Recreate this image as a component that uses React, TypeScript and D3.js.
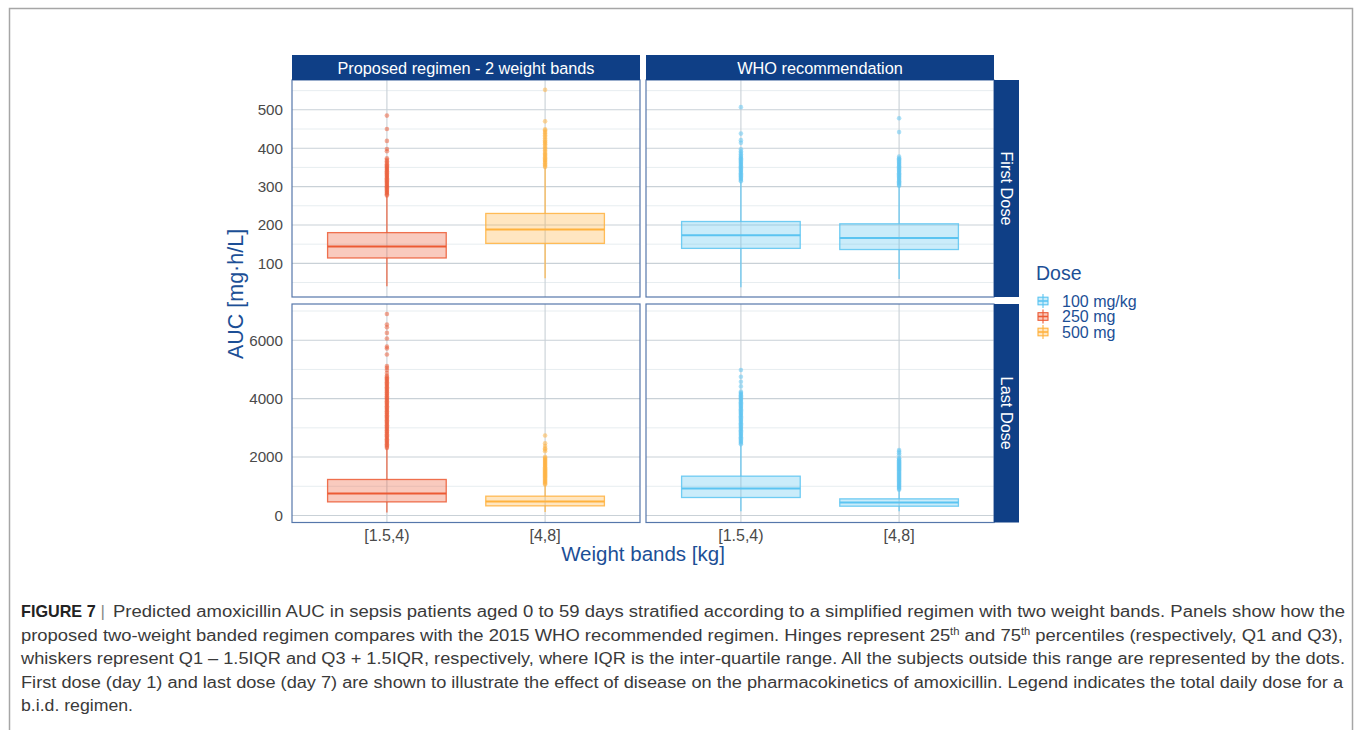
import React from "react";
import * as d3 from "d3";

// Facet labels and categories
const regimens = ["Proposed regimen - 2 weight bands", "WHO recommendation"];
const doseRows = ["First Dose", "Last Dose"];
const weightBands = ["[1.5,4)", "[4,8]"];
const doseLabels = ["100 mg/kg", "250 mg", "500 mg"];
const doseColors = ["#5bc4f1", "#ec5a34", "#ffb23e"];
const proposedDoses = ["250 mg", "500 mg"];
const whoDoses = ["100 mg/kg", "100 mg/kg"];

// Axis ticks
const firstMajorTicks = [100, 200, 300, 400, 500];
const firstMinorTicks = [50, 150, 250, 350, 450, 550];
const lastMajorTicks = [0, 2000, 4000, 6000];
const lastMinorTicks = [1000, 3000, 5000, 7000];

// Box statistics per weight band: [lower whisker, Q1, median, Q3, upper whisker]
const firstProposedStats = [
  [40, 114, 144, 180, 276],
  [61, 152, 188, 230, 349],
];
const firstWhoStats = [
  [38, 139, 173, 209, 312],
  [59, 136, 166, 203, 300],
];
const lastProposedStats = [
  [100, 466, 753, 1233, 2294],
  [123, 330, 479, 661, 1038],
];
const lastWhoStats = [
  [147, 616, 925, 1346, 2408],
  [147, 318, 444, 569, 866],
];

// Subjects beyond the whiskers
const firstProposedOutliers = [
  [277, 280, 283, 286, 289, 292, 295, 298, 301, 304, 307, 310, 313, 316, 319, 322, 325, 328, 331, 334, 337, 340, 343, 346, 349, 352, 355, 358, 362, 366, 370, 374, 392, 398, 419, 450, 485],
  [351, 354, 357, 361, 364, 367, 370, 373, 376, 380, 383, 386, 390, 394, 398, 402, 406, 410, 414, 417, 421, 425, 430, 434, 438, 442, 446, 449, 470, 552],
];
const firstWhoOutliers = [
  [314, 317, 320, 323, 326, 329, 332, 335, 338, 341, 344, 347, 350, 353, 356, 359, 362, 365, 368, 371, 374, 377, 380, 384, 388, 392, 397, 414, 421, 438, 507],
  [302, 305, 308, 311, 314, 317, 320, 323, 326, 329, 332, 335, 338, 341, 344, 347, 350, 353, 356, 359, 362, 365, 368, 371, 374, 378, 442, 478],
];
const lastProposedOutliers = [
  [2310, 2350, 2395, 2440, 2480, 2525, 2570, 2610, 2655, 2700, 2740, 2785, 2830, 2870, 2915, 2960, 3000, 3045, 3090, 3130, 3175, 3220, 3260, 3305, 3350, 3390, 3435, 3480, 3520, 3565, 3610, 3650, 3695, 3740, 3780, 3825, 3870, 3910, 3955, 4000, 4040, 4085, 4130, 4170, 4215, 4260, 4300, 4345, 4390, 4430, 4475, 4520, 4560, 4605, 4650, 4690, 4735, 4780, 4880, 4980, 5060, 5120, 5510, 5720, 5780, 6060, 6250, 6440, 6540, 6900],
  [1060, 1095, 1130, 1165, 1200, 1235, 1270, 1305, 1340, 1375, 1410, 1445, 1480, 1515, 1550, 1585, 1620, 1655, 1690, 1725, 1760, 1795, 1830, 1865, 1900, 1935, 1970, 2005, 2200, 2260, 2300, 2380, 2470, 2740],
];
const lastWhoOutliers = [
  [2440, 2480, 2520, 2560, 2600, 2640, 2680, 2720, 2760, 2800, 2840, 2880, 2920, 2960, 3000, 3040, 3080, 3120, 3160, 3200, 3240, 3280, 3320, 3360, 3400, 3440, 3480, 3520, 3560, 3600, 3640, 3680, 3720, 3760, 3800, 3840, 3880, 3920, 3960, 4000, 4040, 4080, 4120, 4160, 4200, 4240, 4420, 4580, 4750, 4980],
  [880, 915, 950, 985, 1020, 1055, 1090, 1125, 1160, 1195, 1230, 1265, 1300, 1335, 1370, 1405, 1440, 1475, 1510, 1545, 1580, 1615, 1650, 1685, 1720, 1755, 1790, 1825, 1860, 1895, 1930, 1960, 2060, 2130, 2190, 2240],
];

// Caption
const captionLines = [
  "Predicted amoxicillin AUC in sepsis patients aged 0 to 59 days stratified according to a simplified regimen with two weight bands. Panels show how the",
  "proposed two-weight banded regimen compares with the 2015 WHO recommended regimen. Hinges represent 25",
  "whiskers represent Q1 \u2013 1.5IQR and Q3 + 1.5IQR, respectively, where IQR is the inter-quartile range. All the subjects outside this range are represented by the dots.",
  "First dose (day 1) and last dose (day 7) are shown to illustrate the effect of disease on the pharmacokinetics of amoxicillin. Legend indicates the total daily dose for a",
  "b.i.d. regimen.",
];

const FONT = "'Liberation Sans', Arial, sans-serif";
const NARROW = "'Liberation Sans Narrow', 'Liberation Sans', Arial, sans-serif";
const NAVY = "#0f3f86";
const TITLE_BLUE = "#1c4f96";
const GRID = "#c9d1d7";
const GRID_MINOR = "#e7edf0";
const BORDER = "#5677ab";

const colOf = (dose: string) => doseColors[doseLabels.indexOf(dose)];

function expandedDomain(stats: number[][][], outliers: number[][][]): [number, number] {
  const vals: number[] = [];
  stats.forEach((p) => p.forEach((s) => vals.push(...s)));
  outliers.forEach((p) => p.forEach((o) => vals.push(...o)));
  const [lo, hi] = d3.extent(vals) as [number, number];
  const pad = (hi - lo) * 0.05;
  return [lo - pad, hi + pad];
}

export default function App() {
  const cols = [
    { x0: 292, x1: 640 },
    { x0: 646, x1: 994 },
  ];
  const rows = [
    { y0: 80, y1: 297 },
    { y0: 304, y1: 522.5 },
  ];

  const firstDomain = expandedDomain([firstProposedStats, firstWhoStats], [firstProposedOutliers, firstWhoOutliers]);
  const lastDomain = expandedDomain([lastProposedStats, lastWhoStats], [lastProposedOutliers, lastWhoOutliers]);

  const yScales = [
    d3.scaleLinear().domain(firstDomain).range([rows[0].y1, rows[0].y0]),
    d3.scaleLinear().domain(lastDomain).range([rows[1].y1, rows[1].y0]),
  ];
  const majorTicks = [firstMajorTicks, lastMajorTicks];
  const minorTicks = [firstMinorTicks, lastMinorTicks];

  // discrete axis: two unit-spaced positions with 0.6 expansion on each side
  const xScales = cols.map((c) => d3.scaleLinear().domain([0.4, 2.6]).range([c.x0, c.x1]));
  const xPos = (ci: number, bi: number) => xScales[ci](bi + 1);
  const boxHalf = (ci: number) => (xScales[ci](1.375) - xScales[ci](1));

  const panelStats = [
    [firstProposedStats, firstWhoStats],
    [lastProposedStats, lastWhoStats],
  ];
  const panelOutliers = [
    [firstProposedOutliers, firstWhoOutliers],
    [lastProposedOutliers, lastWhoOutliers],
  ];
  const panelDoses = [proposedDoses, whoDoses];

  const fmt = d3.format("d");

  const panels: React.ReactNode[] = [];
  rows.forEach((r, ri) => {
    cols.forEach((c, ci) => {
      const y = yScales[ri];
      const [dLo, dHi] = y.domain();
      const key = `p${ri}${ci}`;
      panels.push(
        <g key={key}>
          <rect x={c.x0} y={r.y0} width={c.x1 - c.x0} height={r.y1 - r.y0} fill="#fff" />
          {minorTicks[ri]
            .filter((t) => t > dLo && t < dHi)
            .map((t) => (
              <line key={`mi${t}`} x1={c.x0} x2={c.x1} y1={y(t)} y2={y(t)} stroke={GRID_MINOR} strokeWidth={1} />
            ))}
          {majorTicks[ri].map((t) => (
            <line key={`ma${t}`} x1={c.x0} x2={c.x1} y1={y(t)} y2={y(t)} stroke={GRID} strokeWidth={1.1} />
          ))}
          {weightBands.map((b, bi) => (
            <line key={`v${b}`} x1={xPos(ci, bi)} x2={xPos(ci, bi)} y1={r.y0} y2={r.y1} stroke={GRID} strokeWidth={1.1} />
          ))}
          {weightBands.map((b, bi) => {
            const [lw, q1, med, q3, uw] = panelStats[ri][ci][bi];
            const color = colOf(panelDoses[ci][bi]);
            const cx = xPos(ci, bi);
            const hw = boxHalf(ci);
            return (
              <g key={`b${b}`}>
                <line x1={cx} x2={cx} y1={y(uw)} y2={y(q3)} stroke={color} strokeWidth={1.1} />
                <line x1={cx} x2={cx} y1={y(q1)} y2={y(lw)} stroke={color} strokeWidth={1.1} />
                <rect
                  x={cx - hw}
                  y={y(q3)}
                  width={hw * 2}
                  height={y(q1) - y(q3)}
                  fill={color}
                  fillOpacity={0.32}
                  stroke={color}
                  strokeOpacity={0.85}
                  strokeWidth={1.3}
                />
                <line x1={cx - hw} x2={cx + hw} y1={y(med)} y2={y(med)} stroke={color} strokeWidth={2} />
                {panelOutliers[ri][ci][bi].map((v, i) => (
                  <circle key={i} cx={cx} cy={y(v)} r={2.3} fill={color} fillOpacity={0.5} />
                ))}
              </g>
            );
          })}
          <rect x={c.x0} y={r.y0} width={c.x1 - c.x0} height={r.y1 - r.y0} fill="none" stroke={BORDER} strokeWidth={1.2} />
        </g>
      );
    });
  });

  return (
    <svg
      width={1355}
      height={730}
      style={{ position: "absolute", left: 0, top: 0, background: "#fff" }}
      fontFamily={FONT}
    >
      <rect x={0} y={0} width={1355} height={730} fill="#fff" />
      {/* figure frame */}
      <path d="M9.5,730 V8.5 H1352.5 V730" fill="none" stroke="#a6a6a6" strokeWidth={1.5} />

      {panels}

      {/* column strips */}
      {cols.map((c, ci) => (
        <g key={`cs${ci}`}>
          <rect x={c.x0} y={55} width={c.x1 - c.x0} height={25} fill={NAVY} />
          <text x={(c.x0 + c.x1) / 2} y={73.5} textAnchor="middle" fill="#fff" fontSize={16.3}>
            {regimens[ci]}
          </text>
        </g>
      ))}
      {/* row strips */}
      {rows.map((r, ri) => (
        <g key={`rs${ri}`}>
          <rect x={994} y={r.y0} width={25} height={r.y1 - r.y0} fill={NAVY} />
          <text
            transform={`translate(1000.5,${(r.y0 + r.y1) / 2}) rotate(90)`}
            textAnchor="middle"
            fill="#fff"
            fontSize={16.3}
          >
            {doseRows[ri]}
          </text>
        </g>
      ))}

      {/* y tick labels */}
      {rows.map((r, ri) =>
        majorTicks[ri].map((t) => (
          <text key={`yt${ri}${t}`} x={283} y={yScales[ri](t) + 5.3} textAnchor="end" fill="#4a4a4a" fontSize={15.2}>
            {fmt(t)}
          </text>
        ))
      )}
      {/* x tick labels */}
      {cols.map((c, ci) =>
        weightBands.map((b, bi) => (
          <text key={`xt${ci}${bi}`} x={xPos(ci, bi)} y={541} textAnchor="middle" fill="#4a4a4a" fontSize={16}>
            {b}
          </text>
        ))
      )}

      {/* axis titles */}
      <text x={643} y={560.5} textAnchor="middle" fill={TITLE_BLUE} fontSize={20.5}>
        Weight bands [kg]
      </text>
      <text transform="translate(243,294) rotate(-90)" textAnchor="middle" fill={TITLE_BLUE} fontSize={21.5}>
        AUC [mg·h/L]
      </text>

      {/* legend */}
      <text x={1036} y={280} fill={TITLE_BLUE} fontSize={19.5}>
        Dose
      </text>
      {doseLabels.map((d, i) => {
        const cy = 301 + i * 15.5;
        const color = doseColors[i];
        return (
          <g key={`lg${i}`}>
            <line x1={1043} x2={1043} y1={cy - 7} y2={cy + 7} stroke={color} strokeWidth={1.1} />
            <rect x={1038} y={cy - 3.8} width={10} height={7.6} fill={color} fillOpacity={0.32} stroke={color} strokeWidth={1.1} />
            <line x1={1038} x2={1048} y1={cy} y2={cy} stroke={color} strokeWidth={1.6} />
            <text x={1062} y={cy + 5.5} fill={TITLE_BLUE} fontSize={16}>
              {d}
            </text>
          </g>
        );
      })}

      {/* caption */}
      <g fontFamily={NARROW} fill="#3a3a3a" fontSize={17.3}>
        <text x={21} y={617}>
          <tspan fontWeight="bold" fontFamily={FONT} fontSize={16.2} fill="#222">FIGURE 7</tspan>
          <tspan fill="#888"> | </tspan>
        </text>
        <text x={113} y={617} textLength={1345 - 113} lengthAdjust="spacingAndGlyphs">
          {captionLines[0]}
        </text>
        <text x={21} y={640.5} textLength={1343 - 21} lengthAdjust="spacingAndGlyphs">
          {captionLines[1]}
          <tspan fontSize={10.5} dy={-6}>th</tspan>
          <tspan dy={6}> and 75</tspan>
          <tspan fontSize={10.5} dy={-6}>th</tspan>
          <tspan dy={6}> percentiles (respectively, Q1 and Q3),</tspan>
        </text>
        <text x={21} y={664} textLength={1345 - 21} lengthAdjust="spacingAndGlyphs">
          {captionLines[2]}
        </text>
        <text x={21} y={687.5} textLength={1343 - 21} lengthAdjust="spacingAndGlyphs">
          {captionLines[3]}
        </text>
        <text x={21} y={711} textLength={133 - 21} lengthAdjust="spacingAndGlyphs">
          {captionLines[4]}
        </text>
      </g>
    </svg>
  );
}
